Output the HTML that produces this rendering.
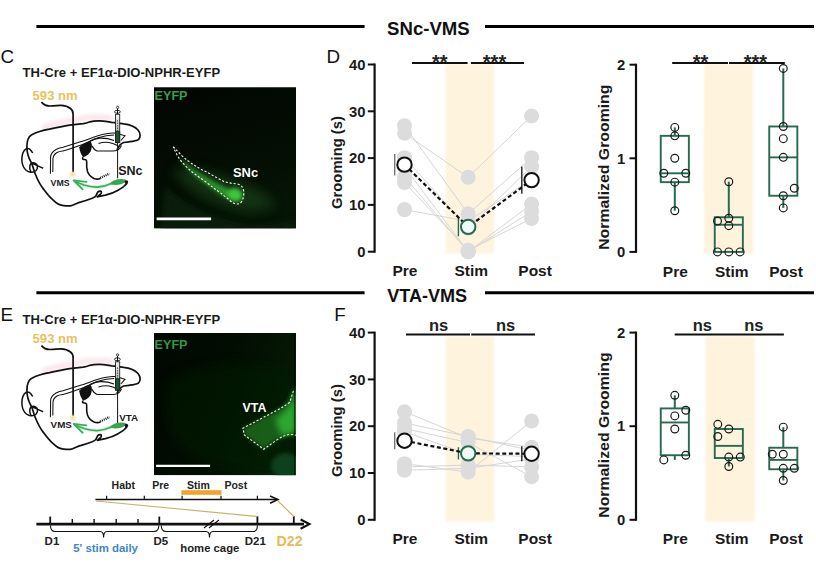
<!DOCTYPE html>
<html><head><meta charset="utf-8"><style>
html,body{margin:0;padding:0;background:#fff;width:816px;height:574px;overflow:hidden}
svg{display:block;font-family:"Liberation Sans", sans-serif}
</style></head><body>
<svg width="816" height="574" viewBox="0 0 816 574">
<defs>
<filter id="blurB" x="-20%" y="-5%" width="140%" height="110%"><feGaussianBlur stdDeviation="1.2"/></filter>
<filter id="blur1" x="-50%" y="-50%" width="200%" height="200%"><feGaussianBlur stdDeviation="1"/></filter>
<filter id="blur2" x="-50%" y="-50%" width="200%" height="200%"><feGaussianBlur stdDeviation="2"/></filter>
<filter id="blur3" x="-50%" y="-50%" width="200%" height="200%"><feGaussianBlur stdDeviation="3"/></filter>
<clipPath id="clipC"><rect x="154" y="87.2" width="142" height="141.2"/></clipPath>
<clipPath id="clipE"><rect x="154" y="333" width="142" height="142.2"/></clipPath>
<linearGradient id="gC" x1="0" y1="0" x2="0.3" y2="1"><stop offset="0" stop-color="#020802" stop-opacity="0.5"/><stop offset="1" stop-color="#071807" stop-opacity="0.8"/></linearGradient>
<linearGradient id="gE" x1="0" y1="0" x2="1" y2="0.4"><stop offset="0" stop-color="#020902" stop-opacity="0.4"/><stop offset="0.6" stop-color="#031203" stop-opacity="0.7"/><stop offset="1" stop-color="#062006" stop-opacity="0.9"/></linearGradient>
<linearGradient id="gSyr" x1="0" y1="0" x2="0" y2="1"><stop offset="0" stop-color="#f2f2f2"/><stop offset="0.3" stop-color="#d8d8d8"/><stop offset="1" stop-color="#8a8a8a"/></linearGradient>
<filter id="blur4" x="-50%" y="-50%" width="200%" height="200%"><feGaussianBlur stdDeviation="6"/></filter>
</defs>
<rect width="816" height="574" fill="#fff"/>
<line x1="36.4" y1="26.5" x2="364.6" y2="26.5" stroke="#000" stroke-width="3"/>
<line x1="485" y1="26.5" x2="814" y2="26.5" stroke="#000" stroke-width="3"/>
<text transform="translate(428.40,35.00) scale(1.045,1)" font-size="17.8" font-weight="bold" text-anchor="middle" fill="#111" >SNc-VMS</text>
<line x1="36.4" y1="292.8" x2="364.6" y2="292.8" stroke="#000" stroke-width="3"/>
<line x1="485" y1="292.8" x2="814" y2="292.8" stroke="#000" stroke-width="3"/>
<text transform="translate(427.20,302.00) scale(1.015,1)" font-size="17.8" font-weight="bold" text-anchor="middle" fill="#111" >VTA-VMS</text>
<text transform="translate(0.60,62.90)" font-size="18.8" font-weight="normal" text-anchor="start" fill="#111" >C</text>
<text transform="translate(0.40,320.70)" font-size="18.8" font-weight="normal" text-anchor="start" fill="#111" >E</text>
<text transform="translate(326.60,62.80)" font-size="18.8" font-weight="normal" text-anchor="start" fill="#111" >D</text>
<text transform="translate(334.20,320.60)" font-size="18.8" font-weight="normal" text-anchor="start" fill="#111" >F</text>
<g transform="translate(0,0)">
<path d="M44,127.5 C55,124 70,120 90,117.6 C100,117 106,117.5 111.5,118.5" fill="none" stroke="#f4cdd7" stroke-width="5" stroke-linecap="round" opacity="0.6" filter="url(#blur2)"/>
<path d="M41.4,102.1 C43,104 46,106 50,106 C55,106 58,105.3 61,105.4 C65,105.6 68,106.5 70.5,108.5 C72.5,110 73.1,112 73.1,114 L73.1,172.2" fill="none" stroke="#111" stroke-width="1.7"/>
<circle cx="72.6" cy="174.5" r="2.8" fill="#f8dfa8" filter="url(#blur1)"/>
<path d="M116.9,149.9 C118,147.5 120,144 123.6,142.5 L129,141.8 C133,141.3 136,141 138.5,139.5 C141,137.5 140.5,133 138,130 C135,126.5 130,124.5 123.6,123.8 C118,123 114,122.3 111.5,122.3 C106,121.5 102,120.8 99.3,120.9 C95,121 92,121.3 89.9,121.8 C87,123 85,123.4 83.2,123.6 C78,124 74,124.5 69.7,125.2 C62,126.5 55,128 49.5,129.2 C42,130.5 36,132.5 31.4,134.9 C28.5,136.5 27,141 26.9,146.6 C26.8,152 28.5,158 31.4,162.9 C33,166 33.5,170 35.4,174.3 C38,181 41,186 43.5,189.1 C47,194 50,197.5 52.9,199.9 C56,203 60,205.5 63.7,205.6 C66,205.9 68,206 70.4,205.9 C74,205 77,203 81.2,201.9 C86,200.5 90,199 93.3,197.8 C95.5,197 96.5,195.5 96.8,194 C97.5,192 98.5,191 100.5,191.2 C102,191.5 101.5,193.5 100.1,194.5 C99,195.5 97.5,196.3 97.4,196.8 C100,196.5 102,195.8 105.5,195.1 C110,194 114,192.5 117.6,190.4 C121,188.5 123.5,187 124.8,185.5 C126,184.5 126.7,183.6 127,183" fill="none" stroke="#111" stroke-width="1.7" stroke-linejoin="round"/>
<path d="M32.7,153 C31,150 29.5,148.5 27.8,148.4 C25.5,148.2 23,151 22.2,155.5 C21.5,160 22,164 23.6,167 C25,170 27.5,171.8 30.5,172.2 C33.5,172.5 36.5,171 37.2,168.5 C37.8,166 36.8,163.7 34.5,163 C32.5,162.5 30.6,163.6 29.9,165.5 C29.4,167.5 30,170 31,172 M31.8,163 C35,164.5 40,166.8 43.1,168.3" fill="none" stroke="#111" stroke-width="1.5"/>
<path d="M50.4,173.8 L50.6,157 C50.8,153.5 52.5,151.5 56,149.5 C59,148 61,147.5 63,147.2 C70,145 75,143.5 80.5,141.8 C87,139.8 92,137.5 98,135.8 C104,134 110,133 114.2,133.1 C118,133.2 120.5,134.3 122.3,135.1 L125,135.8 L120.9,140.5" fill="none" stroke="#111" stroke-width="1.05"/>
<path d="M52.8,172 L53,158.5 C53.2,155.5 54.5,154 57,152.5 C59,151.5 61,151.3 63,151 C70,149 75,147 80.5,145.2 C87,143 92,140 98,137.8 C104,136 110,135.2 114.2,135.1" fill="none" stroke="#111" stroke-width="1.05"/>
<path d="M79.1,147.2 C82,144.5 86,142 89.9,141.1 C91.5,142.5 92,144 91.9,145.9 C91.5,149 91,151 89.9,152.6 C88,155 85.5,156.5 83.2,157.3 C82,155.5 81,154 80.5,152.6 C80,151 79.5,149 79.1,147.2 Z" fill="#111"/>
<path d="M89.9,141.1 C93,139.5 97,138.5 100,138.2 C105,138 110,139 114,140.5 M91.9,145.9 C93,148 94.5,150 97,151 L113,151 C116,151 118,150.5 119.6,148.5 L121.5,145.5" fill="none" stroke="#111" stroke-width="1.2"/>
<path d="M98.5,143.5 C102,142.3 106,142 109,142.5 C112,143 115,144 117.5,145.5" fill="none" stroke="#111" stroke-width="1.1"/>
<path d="M83.2,157.3 C82,158.5 82.5,159.5 84,159.5 C85.5,159.3 86.8,160 86.7,162.1 C86.5,165 86.6,168.5 87.5,171.5 C88.5,174.5 91,177 94,178.5 C96,179.3 98.5,179.3 100.5,178.6" fill="none" stroke="#111" stroke-width="1.6"/>
<path d="M100.1,178 L109.5,173.6" fill="none" stroke="#222" stroke-width="2.3" stroke-dasharray="1.1,0.9"/>
<g transform="translate(0,0)">
<circle cx="117.6" cy="107.4" r="1.15" fill="none" stroke="#111" stroke-width="0.8"/>
<line x1="117.5" y1="108.6" x2="117.5" y2="114.5" stroke="#111" stroke-width="1"/>
<ellipse cx="117.4" cy="111.8" rx="2.9" ry="1.5" fill="none" stroke="#111" stroke-width="0.9"/>
<rect x="115.5" y="114.3" width="4.2" height="28.3" fill="url(#gSyr)" stroke="#222" stroke-width="0.9"/>
<line x1="117.6" y1="120" x2="117.6" y2="131" stroke="#555" stroke-width="1" stroke-dasharray="1.5,1"/>
<rect x="115.5" y="131.3" width="4.2" height="11.3" fill="#1b5532" stroke="#222" stroke-width="0.9"/>
</g>
<line x1="117.6" y1="142.5" x2="117.6" y2="178.3" stroke="#111" stroke-width="1"/>
<path d="M112,183.2 C107,185.5 102.5,186.8 97.4,187.1 C92,187.3 88,186.3 83.9,185 C80,183.5 76,181.8 74,180.8" fill="none" stroke="#bfe8c8" stroke-width="3.6" opacity="0.6"/>
<path d="M112,183.2 C107,185.5 102.5,186.8 97.4,187.1 C92,187.3 88,186.3 83.9,185 C80,183.5 76,181.8 74,180.8" fill="none" stroke="#3bb05a" stroke-width="1.8"/>
<path d="M86.4,181.9 L73.6,180.4 L82.6,189.2" fill="none" stroke="#3bb05a" stroke-width="1.9" stroke-linejoin="round" stroke-linecap="round"/>
<path d="M109.5,184 C113,179.8 120,177.8 126.5,180 C124.5,184.2 117.5,186.3 109.5,184 Z" fill="#35a552"/>
<circle cx="126.4" cy="182.1" r="1.8" fill="#111"/>
</g>
<text transform="translate(50.60,185.70)" font-size="8.8" font-weight="bold" text-anchor="start" fill="#222" >VMS</text>
<text transform="translate(32.60,99.80) scale(1.03,1)" font-size="12.7" font-weight="bold" text-anchor="start" fill="#e8c35c" >593 nm</text>
<text transform="translate(118.20,175.40)" font-size="12.5" font-weight="bold" text-anchor="start" fill="#1a1a1a" >SNc</text>
<g transform="translate(0,243.5)">
<path d="M44,127.5 C55,124 70,120 90,117.6 C100,117 106,117.5 111.5,118.5" fill="none" stroke="#f4cdd7" stroke-width="5" stroke-linecap="round" opacity="0.6" filter="url(#blur2)"/>
<path d="M41.4,102.1 C43,104 46,106 50,106 C55,106 58,105.3 61,105.4 C65,105.6 68,106.5 70.5,108.5 C72.5,110 73.1,112 73.1,114 L73.1,172.2" fill="none" stroke="#111" stroke-width="1.7"/>
<circle cx="72.6" cy="174.5" r="2.8" fill="#f8dfa8" filter="url(#blur1)"/>
<path d="M116.9,149.9 C118,147.5 120,144 123.6,142.5 L129,141.8 C133,141.3 136,141 138.5,139.5 C141,137.5 140.5,133 138,130 C135,126.5 130,124.5 123.6,123.8 C118,123 114,122.3 111.5,122.3 C106,121.5 102,120.8 99.3,120.9 C95,121 92,121.3 89.9,121.8 C87,123 85,123.4 83.2,123.6 C78,124 74,124.5 69.7,125.2 C62,126.5 55,128 49.5,129.2 C42,130.5 36,132.5 31.4,134.9 C28.5,136.5 27,141 26.9,146.6 C26.8,152 28.5,158 31.4,162.9 C33,166 33.5,170 35.4,174.3 C38,181 41,186 43.5,189.1 C47,194 50,197.5 52.9,199.9 C56,203 60,205.5 63.7,205.6 C66,205.9 68,206 70.4,205.9 C74,205 77,203 81.2,201.9 C86,200.5 90,199 93.3,197.8 C95.5,197 96.5,195.5 96.8,194 C97.5,192 98.5,191 100.5,191.2 C102,191.5 101.5,193.5 100.1,194.5 C99,195.5 97.5,196.3 97.4,196.8 C100,196.5 102,195.8 105.5,195.1 C110,194 114,192.5 117.6,190.4 C121,188.5 123.5,187 124.8,185.5 C126,184.5 126.7,183.6 127,183" fill="none" stroke="#111" stroke-width="1.7" stroke-linejoin="round"/>
<path d="M32.7,153 C31,150 29.5,148.5 27.8,148.4 C25.5,148.2 23,151 22.2,155.5 C21.5,160 22,164 23.6,167 C25,170 27.5,171.8 30.5,172.2 C33.5,172.5 36.5,171 37.2,168.5 C37.8,166 36.8,163.7 34.5,163 C32.5,162.5 30.6,163.6 29.9,165.5 C29.4,167.5 30,170 31,172 M31.8,163 C35,164.5 40,166.8 43.1,168.3" fill="none" stroke="#111" stroke-width="1.5"/>
<path d="M50.4,173.8 L50.6,157 C50.8,153.5 52.5,151.5 56,149.5 C59,148 61,147.5 63,147.2 C70,145 75,143.5 80.5,141.8 C87,139.8 92,137.5 98,135.8 C104,134 110,133 114.2,133.1 C118,133.2 120.5,134.3 122.3,135.1 L125,135.8 L120.9,140.5" fill="none" stroke="#111" stroke-width="1.05"/>
<path d="M52.8,172 L53,158.5 C53.2,155.5 54.5,154 57,152.5 C59,151.5 61,151.3 63,151 C70,149 75,147 80.5,145.2 C87,143 92,140 98,137.8 C104,136 110,135.2 114.2,135.1" fill="none" stroke="#111" stroke-width="1.05"/>
<path d="M79.1,147.2 C82,144.5 86,142 89.9,141.1 C91.5,142.5 92,144 91.9,145.9 C91.5,149 91,151 89.9,152.6 C88,155 85.5,156.5 83.2,157.3 C82,155.5 81,154 80.5,152.6 C80,151 79.5,149 79.1,147.2 Z" fill="#111"/>
<path d="M89.9,141.1 C93,139.5 97,138.5 100,138.2 C105,138 110,139 114,140.5 M91.9,145.9 C93,148 94.5,150 97,151 L113,151 C116,151 118,150.5 119.6,148.5 L121.5,145.5" fill="none" stroke="#111" stroke-width="1.2"/>
<path d="M98.5,143.5 C102,142.3 106,142 109,142.5 C112,143 115,144 117.5,145.5" fill="none" stroke="#111" stroke-width="1.1"/>
<path d="M83.2,157.3 C82,158.5 82.5,159.5 84,159.5 C85.5,159.3 86.8,160 86.7,162.1 C86.5,165 86.6,168.5 87.5,171.5 C88.5,174.5 91,177 94,178.5 C96,179.3 98.5,179.3 100.5,178.6" fill="none" stroke="#111" stroke-width="1.6"/>
<path d="M100.1,178 L109.5,173.6" fill="none" stroke="#222" stroke-width="2.3" stroke-dasharray="1.1,0.9"/>
<g transform="translate(0,4)">
<circle cx="117.6" cy="107.4" r="1.15" fill="none" stroke="#111" stroke-width="0.8"/>
<line x1="117.5" y1="108.6" x2="117.5" y2="114.5" stroke="#111" stroke-width="1"/>
<ellipse cx="117.4" cy="111.8" rx="2.9" ry="1.5" fill="none" stroke="#111" stroke-width="0.9"/>
<rect x="115.5" y="114.3" width="4.2" height="28.3" fill="url(#gSyr)" stroke="#222" stroke-width="0.9"/>
<line x1="117.6" y1="120" x2="117.6" y2="131" stroke="#555" stroke-width="1" stroke-dasharray="1.5,1"/>
<rect x="115.5" y="131.3" width="4.2" height="11.3" fill="#1b5532" stroke="#222" stroke-width="0.9"/>
</g>
<line x1="117.6" y1="146.5" x2="117.6" y2="182.5" stroke="#111" stroke-width="1"/>
<path d="M112,183.2 C107,185.5 102.5,186.8 97.4,187.1 C92,187.3 88,186.3 83.9,185 C80,183.5 76,181.8 74,180.8" fill="none" stroke="#bfe8c8" stroke-width="3.6" opacity="0.6"/>
<path d="M112,183.2 C107,185.5 102.5,186.8 97.4,187.1 C92,187.3 88,186.3 83.9,185 C80,183.5 76,181.8 74,180.8" fill="none" stroke="#3bb05a" stroke-width="1.8"/>
<path d="M86.4,181.9 L73.6,180.4 L82.6,189.2" fill="none" stroke="#3bb05a" stroke-width="1.9" stroke-linejoin="round" stroke-linecap="round"/>
<path d="M109.5,184 C113,179.8 120,177.8 126.5,180 C124.5,184.2 117.5,186.3 109.5,184 Z" fill="#35a552"/>
<circle cx="126.4" cy="182.1" r="1.8" fill="#111"/>
</g>
<text transform="translate(50.60,427.70)" font-size="9.8" font-weight="bold" text-anchor="start" fill="#222" >VMS</text>
<text transform="translate(32.60,343.30) scale(1.03,1)" font-size="12.7" font-weight="bold" text-anchor="start" fill="#e8c35c" >593 nm</text>
<text transform="translate(119.20,420.90)" font-size="9.8" font-weight="bold" text-anchor="start" fill="#1a1a1a" >VTA</text>
<text transform="translate(22.60,76.80) scale(1.045,1)" font-size="12.5" font-weight="bold" text-anchor="start" fill="#1a1a1a" >TH-Cre + EF1α-DIO-NPHR-EYFP</text>
<text transform="translate(22.60,324.20) scale(1.045,1)" font-size="12.5" font-weight="bold" text-anchor="start" fill="#1a1a1a" >TH-Cre + EF1α-DIO-NPHR-EYFP</text>
<g clip-path="url(#clipC)">
<rect x="154" y="87.2" width="142" height="141.2" fill="#010301"/>
<rect x="154" y="87.2" width="142" height="141.2" fill="url(#gC)"/>
<path d="M165,185 C185,205 215,218 245,224 C262,227 280,224 296,218 L296,232 L160,232 Z" fill="#0a200a" opacity="0.7" filter="url(#blur3)"/>
<path d="M172,170 C185,190 210,203 240,210 C255,213 268,210 276,204 C265,192 248,184 230,178 C210,172 190,165 172,170 Z" fill="#1a4a1a" opacity="0.6" filter="url(#blur4)"/>
<path d="M178,155 C190,168 206,178 222,186 C230,190 236,191 241,194 C244,198 241,202 236,202 C228,200 215,190 205,183 C192,174 184,165 178,155 Z" fill="#2fa52f" opacity="0.9" filter="url(#blur2)"/>
<ellipse cx="235" cy="194" rx="7" ry="6" fill="#45d045" opacity="0.85" filter="url(#blur2)"/>
<path d="M173.2,146.6 C180,154 184,158 188.8,161.4 C195,166 200,169 206.3,171.8 C212,175 218,178.5 223.7,181.4 C227,182.7 230,183 237.6,184 C241,185 243,187 243.7,191 C244.2,195 243,200 241.1,202.3 C239,204 237.5,204.2 235.9,204 C233,203 231,201.5 228.9,199.7 C226,197 223,195 220.2,192.7 C215,189 211,186 206.3,182.3 C202,179 198,176.5 194.1,173.6 C189,169.5 184,165 180.1,159.6 C177,155.5 175,151 173.2,146.6" fill="none" stroke="#f4f4f4" stroke-width="1.1" stroke-dasharray="2.2,1.8"/>
</g>
<text x="154.6" y="99.8" font-size="12.6" font-weight="bold" fill="#36a048">EYFP</text>
<text x="233" y="177" font-size="12.3" font-weight="bold" fill="#fff" transform="translate(233,177) scale(1.05,1) translate(-233,-177)">SNc</text>
<line x1="156.6" y1="218.9" x2="211.1" y2="218.9" stroke="#fff" stroke-width="2.6"/>
<g clip-path="url(#clipE)">
<rect x="154" y="333" width="142" height="142.2" fill="#010701"/>
<rect x="154" y="333" width="142" height="142.2" fill="url(#gE)"/>
<path d="M170,380 C210,360 260,360 296,375 L296,470 C260,472 215,468 190,455 C168,440 160,405 170,380 Z" fill="#061a06" opacity="0.55" filter="url(#blur4)"/>
<path d="M293.4,390.8 L289.9,402.1 L276,410.8 L242.8,428.3 L244.6,435.2 L263.8,449.2 L276,440.5 L289.9,434.4 L296,435.2 L296,385 Z" fill="#1a6a1d" opacity="0.85" filter="url(#blur2)"/>
<path d="M296,388 L288,408 L275,420 L282,436 L296,432 Z" fill="#34c038" opacity="0.75" filter="url(#blur3)"/>
<ellipse cx="286" cy="466" rx="15" ry="13" fill="#11401a" filter="url(#blur2)"/>
<line x1="294.5" y1="333" x2="294.5" y2="475" stroke="#000" stroke-width="1" opacity="0.5"/>
<path d="M293.4,390.8 L289.9,402.1 C285,406 281,408 276,410.8 L242.8,428.3 L244.6,435.2 L263.8,449.2 L276,440.5 C281,437 285,435 289.9,434.4 L296,435.2" fill="none" stroke="#f0f0e8" stroke-width="1.1" stroke-dasharray="2.2,1.8"/>
</g>
<text x="154.6" y="348.6" font-size="12.6" font-weight="bold" fill="#2f9a40">EYFP</text>
<text x="242.5" y="411.7" font-size="12.4" font-weight="bold" fill="#fff">VTA</text>
<line x1="156.1" y1="465.9" x2="210.1" y2="465.9" stroke="#fff" stroke-width="2.2"/>

<g stroke="#111" fill="none">
<line x1="36.4" y1="524.1" x2="304" y2="524.1" stroke-width="2.6"/>
<path d="M300.6,519.5 L309.3,524.1 L300.6,528.7" stroke-width="2.2"/>
<line x1="50.2" y1="516.6" x2="50.2" y2="524" stroke-width="1.8"/>
<line x1="159.3" y1="516.6" x2="159.3" y2="524" stroke-width="1.8"/>
<line x1="257.4" y1="516.2" x2="257.4" y2="524" stroke-width="1.8"/>
<line x1="293.8" y1="516.2" x2="293.8" y2="524" stroke-width="1.8"/>
<line x1="72.3" y1="519" x2="72.3" y2="524" stroke-width="1.4"/>
<line x1="94.1" y1="519" x2="94.1" y2="524" stroke-width="1.4"/>
<line x1="116.2" y1="519" x2="116.2" y2="524" stroke-width="1.4"/>
<line x1="138" y1="519" x2="138" y2="524" stroke-width="1.4"/>
<path d="M50.5,525.5 C50.5,530 52,531.5 55,531.5 L100,531.5 C102,531.5 103.6,533 103.6,537.4 C103.6,533 105,531.5 107,531.5 L154,531.5 C157,531.5 158.8,530 158.8,525.5" stroke-width="1.1"/>
<path d="M161.3,525.5 C161.3,530 163,531.5 166,531.5 L206,531.5 C208,531.5 209.5,533 209.5,537.4 C209.5,533 211,531.5 213,531.5 L253,531.5 C256,531.5 257.4,530 257.4,525.5" stroke-width="1.1"/>
<path d="M204,528 L214,520 M209,528 L219,520" stroke-width="1.2"/>
<line x1="95.4" y1="499.5" x2="276" y2="499.5" stroke-width="1.7"/>
<path d="M270,496 L278,499.5 L270,503.3" stroke-width="1.5"/>
<line x1="106.6" y1="495.7" x2="106.6" y2="499.5" stroke-width="1.2"/>
<line x1="144.3" y1="495.7" x2="144.3" y2="499.5" stroke-width="1.2"/>
<line x1="182.1" y1="495.7" x2="182.1" y2="499.5" stroke-width="1.2"/>
<line x1="221" y1="495.7" x2="221" y2="499.5" stroke-width="1.2"/>
<line x1="257.4" y1="495.7" x2="257.4" y2="499.5" stroke-width="1.2"/>
</g>
<rect x="181.4" y="490.2" width="40.1" height="4.6" fill="#f0a42a"/>
<line x1="96" y1="501" x2="257.4" y2="516.5" stroke="#c8b06a" stroke-width="1.1"/>
<line x1="278" y1="501" x2="293.8" y2="516.5" stroke="#c8b06a" stroke-width="1.1"/>

<text transform="translate(111.60,489.20)" font-size="10.5" font-weight="bold" text-anchor="start" fill="#222" >Habt</text>
<text transform="translate(152.20,489.20)" font-size="10.5" font-weight="bold" text-anchor="start" fill="#222" >Pre</text>
<text transform="translate(187.00,489.20)" font-size="10.5" font-weight="bold" text-anchor="start" fill="#222" >Stim</text>
<text transform="translate(224.40,489.20)" font-size="10.5" font-weight="bold" text-anchor="start" fill="#222" >Post</text>
<text transform="translate(44.60,545.20)" font-size="11.5" font-weight="bold" text-anchor="start" fill="#222" >D1</text>
<text transform="translate(153.40,545.20)" font-size="11.5" font-weight="bold" text-anchor="start" fill="#222" >D5</text>
<text transform="translate(244.80,545.20)" font-size="11.5" font-weight="bold" text-anchor="start" fill="#222" >D21</text>
<text transform="translate(276.60,546.10)" font-size="14.2" font-weight="bold" text-anchor="start" fill="#e5bc55" >D22</text>
<text transform="translate(73.20,552.20)" font-size="11.4" font-weight="bold" text-anchor="start" fill="#3f86c6" >5' stim daily</text>
<text transform="translate(180.30,552.20)" font-size="11.3" font-weight="bold" text-anchor="start" fill="#222" >home cage</text>
<rect x="445.8" y="64.2" width="48.2" height="189.0" fill="#fef3dc" filter="url(#blurB)"/>
<line x1="374.6" y1="63.5" x2="374.6" y2="252.7" stroke="#111" stroke-width="2.2"/>
<line x1="367.8" y1="251.7" x2="374.6" y2="251.7" stroke="#111" stroke-width="2"/>
<text transform="translate(365.40,256.90)" font-size="14.8" font-weight="bold" text-anchor="end" fill="#1a1a1a" >0</text>
<line x1="367.8" y1="204.89999999999998" x2="374.6" y2="204.89999999999998" stroke="#111" stroke-width="2"/>
<text transform="translate(365.40,210.10)" font-size="14.8" font-weight="bold" text-anchor="end" fill="#1a1a1a" >10</text>
<line x1="367.8" y1="158.1" x2="374.6" y2="158.1" stroke="#111" stroke-width="2"/>
<text transform="translate(365.40,163.30)" font-size="14.8" font-weight="bold" text-anchor="end" fill="#1a1a1a" >20</text>
<line x1="367.8" y1="111.30000000000001" x2="374.6" y2="111.30000000000001" stroke="#111" stroke-width="2"/>
<text transform="translate(365.40,116.50)" font-size="14.8" font-weight="bold" text-anchor="end" fill="#1a1a1a" >30</text>
<line x1="367.8" y1="64.5" x2="374.6" y2="64.5" stroke="#111" stroke-width="2"/>
<text transform="translate(365.40,69.70)" font-size="14.8" font-weight="bold" text-anchor="end" fill="#1a1a1a" >40</text>
<text transform="translate(342.30,162.50) rotate(-90)" font-size="14.8" font-weight="bold" text-anchor="middle" fill="#1a1a1a" >Grooming (s)</text>
<polyline points="404.5,125.81 468.2,213.79 531.6,157.63" fill="none" stroke="#d6d6d6" stroke-width="1"/>
<polyline points="404.5,133.30 468.2,177.29 531.6,115.98" fill="none" stroke="#d6d6d6" stroke-width="1"/>
<polyline points="404.5,157.63 468.2,228.30 531.6,166.52" fill="none" stroke="#d6d6d6" stroke-width="1"/>
<polyline points="404.5,166.99 468.2,251.70 531.6,203.96" fill="none" stroke="#d6d6d6" stroke-width="1"/>
<polyline points="404.5,176.82 468.2,251.70 531.6,211.45" fill="none" stroke="#d6d6d6" stroke-width="1"/>
<polyline points="404.5,182.44 468.2,250.30 531.6,218.47" fill="none" stroke="#d6d6d6" stroke-width="1"/>
<polyline points="404.5,209.58 468.2,221.28 531.6,179.16" fill="none" stroke="#d6d6d6" stroke-width="1"/>
<circle cx="404.5" cy="125.81" r="7.5" fill="#dcdcdc"/>
<circle cx="404.5" cy="133.30" r="7.5" fill="#dcdcdc"/>
<circle cx="404.5" cy="157.63" r="7.5" fill="#dcdcdc"/>
<circle cx="404.5" cy="166.99" r="7.5" fill="#dcdcdc"/>
<circle cx="404.5" cy="176.82" r="7.5" fill="#dcdcdc"/>
<circle cx="404.5" cy="182.44" r="7.5" fill="#dcdcdc"/>
<circle cx="404.5" cy="209.58" r="7.5" fill="#dcdcdc"/>
<circle cx="468.2" cy="213.79" r="7.5" fill="#dcdcdc"/>
<circle cx="468.2" cy="177.29" r="7.5" fill="#dcdcdc"/>
<circle cx="468.2" cy="228.30" r="7.5" fill="#dcdcdc"/>
<circle cx="468.2" cy="251.70" r="7.5" fill="#dcdcdc"/>
<circle cx="468.2" cy="251.70" r="7.5" fill="#dcdcdc"/>
<circle cx="468.2" cy="250.30" r="7.5" fill="#dcdcdc"/>
<circle cx="468.2" cy="221.28" r="7.5" fill="#dcdcdc"/>
<circle cx="531.6" cy="157.63" r="7.5" fill="#dcdcdc"/>
<circle cx="531.6" cy="115.98" r="7.5" fill="#dcdcdc"/>
<circle cx="531.6" cy="166.52" r="7.5" fill="#dcdcdc"/>
<circle cx="531.6" cy="203.96" r="7.5" fill="#dcdcdc"/>
<circle cx="531.6" cy="211.45" r="7.5" fill="#dcdcdc"/>
<circle cx="531.6" cy="218.47" r="7.5" fill="#dcdcdc"/>
<circle cx="531.6" cy="179.16" r="7.5" fill="#dcdcdc"/>
<line x1="394.7" y1="153.89" x2="394.7" y2="175.42" stroke="#777" stroke-width="1.4"/>
<line x1="458.4" y1="217.54" x2="458.4" y2="236.26" stroke="#276a50" stroke-width="1.4"/>
<line x1="521.8000000000001" y1="166.52" x2="521.8000000000001" y2="193.67" stroke="#222" stroke-width="1.4"/>
<polyline points="404.5,164.65 468.2,226.90 531.6,180.10" fill="none" stroke="#111" stroke-width="2.2" stroke-dasharray="4,2.6"/>
<circle cx="404.5" cy="164.65" r="7.2" fill="#fff" stroke="#111" stroke-width="2"/>
<circle cx="468.2" cy="226.90" r="7.2" fill="#effcf6" stroke="#276a50" stroke-width="2"/>
<circle cx="531.6" cy="180.10" r="7.2" fill="#fff" stroke="#111" stroke-width="2"/>
<text transform="translate(405.00,276.30) scale(1.02,1)" font-size="15.2" font-weight="bold" text-anchor="middle" fill="#1a1a1a" >Pre</text>
<text transform="translate(471.20,276.30) scale(1.02,1)" font-size="15.2" font-weight="bold" text-anchor="middle" fill="#1a1a1a" >Stim</text>
<text transform="translate(535.10,276.30) scale(1.02,1)" font-size="15.2" font-weight="bold" text-anchor="middle" fill="#1a1a1a" >Post</text>
<line x1="412" y1="62.9" x2="467.6" y2="62.9" stroke="#111" stroke-width="2"/>
<line x1="470.9" y1="62.9" x2="524" y2="62.9" stroke="#111" stroke-width="2"/>
<text transform="translate(439.80,68.70)" font-size="20" font-weight="bold" text-anchor="middle" fill="#222" >**</text>
<text transform="translate(494.50,68.70)" font-size="20" font-weight="bold" text-anchor="middle" fill="#222" >***</text>
<rect x="445.8" y="336.5" width="48.2" height="184.79999999999995" fill="#fef3dc" filter="url(#blurB)"/>
<line x1="374.6" y1="331.59999999999997" x2="374.6" y2="520.8" stroke="#111" stroke-width="2.2"/>
<line x1="367.8" y1="519.8" x2="374.6" y2="519.8" stroke="#111" stroke-width="2"/>
<text transform="translate(365.40,525.00)" font-size="14.8" font-weight="bold" text-anchor="end" fill="#1a1a1a" >0</text>
<line x1="367.8" y1="472.99999999999994" x2="374.6" y2="472.99999999999994" stroke="#111" stroke-width="2"/>
<text transform="translate(365.40,478.20)" font-size="14.8" font-weight="bold" text-anchor="end" fill="#1a1a1a" >10</text>
<line x1="367.8" y1="426.19999999999993" x2="374.6" y2="426.19999999999993" stroke="#111" stroke-width="2"/>
<text transform="translate(365.40,431.40)" font-size="14.8" font-weight="bold" text-anchor="end" fill="#1a1a1a" >20</text>
<line x1="367.8" y1="379.4" x2="374.6" y2="379.4" stroke="#111" stroke-width="2"/>
<text transform="translate(365.40,384.60)" font-size="14.8" font-weight="bold" text-anchor="end" fill="#1a1a1a" >30</text>
<line x1="367.8" y1="332.59999999999997" x2="374.6" y2="332.59999999999997" stroke="#111" stroke-width="2"/>
<text transform="translate(365.40,337.80)" font-size="14.8" font-weight="bold" text-anchor="end" fill="#1a1a1a" >40</text>
<text transform="translate(342.30,430.60) rotate(-90)" font-size="14.8" font-weight="bold" text-anchor="middle" fill="#1a1a1a" >Grooming (s)</text>
<polyline points="404.5,411.69 468.2,437.90 531.6,447.26" fill="none" stroke="#d6d6d6" stroke-width="1"/>
<polyline points="404.5,422.92 468.2,436.50 531.6,450.54" fill="none" stroke="#d6d6d6" stroke-width="1"/>
<polyline points="404.5,428.54 468.2,442.58 531.6,476.74" fill="none" stroke="#d6d6d6" stroke-width="1"/>
<polyline points="404.5,431.82 468.2,454.28 531.6,456.62" fill="none" stroke="#d6d6d6" stroke-width="1"/>
<polyline points="404.5,463.64 468.2,472.06 531.6,421.05" fill="none" stroke="#d6d6d6" stroke-width="1"/>
<polyline points="404.5,466.92 468.2,465.04 531.6,466.92" fill="none" stroke="#d6d6d6" stroke-width="1"/>
<polyline points="404.5,470.19 468.2,468.32 531.6,458.96" fill="none" stroke="#d6d6d6" stroke-width="1"/>
<circle cx="404.5" cy="411.69" r="7.5" fill="#dcdcdc"/>
<circle cx="404.5" cy="422.92" r="7.5" fill="#dcdcdc"/>
<circle cx="404.5" cy="428.54" r="7.5" fill="#dcdcdc"/>
<circle cx="404.5" cy="431.82" r="7.5" fill="#dcdcdc"/>
<circle cx="404.5" cy="463.64" r="7.5" fill="#dcdcdc"/>
<circle cx="404.5" cy="466.92" r="7.5" fill="#dcdcdc"/>
<circle cx="404.5" cy="470.19" r="7.5" fill="#dcdcdc"/>
<circle cx="468.2" cy="437.90" r="7.5" fill="#dcdcdc"/>
<circle cx="468.2" cy="436.50" r="7.5" fill="#dcdcdc"/>
<circle cx="468.2" cy="442.58" r="7.5" fill="#dcdcdc"/>
<circle cx="468.2" cy="454.28" r="7.5" fill="#dcdcdc"/>
<circle cx="468.2" cy="472.06" r="7.5" fill="#dcdcdc"/>
<circle cx="468.2" cy="465.04" r="7.5" fill="#dcdcdc"/>
<circle cx="468.2" cy="468.32" r="7.5" fill="#dcdcdc"/>
<circle cx="531.6" cy="447.26" r="7.5" fill="#dcdcdc"/>
<circle cx="531.6" cy="450.54" r="7.5" fill="#dcdcdc"/>
<circle cx="531.6" cy="476.74" r="7.5" fill="#dcdcdc"/>
<circle cx="531.6" cy="456.62" r="7.5" fill="#dcdcdc"/>
<circle cx="531.6" cy="421.05" r="7.5" fill="#dcdcdc"/>
<circle cx="531.6" cy="466.92" r="7.5" fill="#dcdcdc"/>
<circle cx="531.6" cy="458.96" r="7.5" fill="#dcdcdc"/>
<line x1="394.7" y1="432.28" x2="394.7" y2="449.13" stroke="#777" stroke-width="1.4"/>
<line x1="458.4" y1="447.26" x2="458.4" y2="459.43" stroke="#276a50" stroke-width="1.4"/>
<line x1="521.8000000000001" y1="446.32" x2="521.8000000000001" y2="461.30" stroke="#222" stroke-width="1.4"/>
<polyline points="404.5,440.71 468.2,453.34 531.6,453.81" fill="none" stroke="#111" stroke-width="2.2" stroke-dasharray="4,2.6"/>
<circle cx="404.5" cy="440.71" r="7.2" fill="#fff" stroke="#111" stroke-width="2"/>
<circle cx="468.2" cy="453.34" r="7.2" fill="#effcf6" stroke="#276a50" stroke-width="2"/>
<circle cx="531.6" cy="453.81" r="7.2" fill="#fff" stroke="#111" stroke-width="2"/>
<text transform="translate(405.00,544.40) scale(1.02,1)" font-size="15.2" font-weight="bold" text-anchor="middle" fill="#1a1a1a" >Pre</text>
<text transform="translate(471.20,544.40) scale(1.02,1)" font-size="15.2" font-weight="bold" text-anchor="middle" fill="#1a1a1a" >Stim</text>
<text transform="translate(535.10,544.40) scale(1.02,1)" font-size="15.2" font-weight="bold" text-anchor="middle" fill="#1a1a1a" >Post</text>
<line x1="406" y1="334.6" x2="470" y2="334.6" stroke="#111" stroke-width="2"/>
<line x1="471.2" y1="334.6" x2="535" y2="334.6" stroke="#111" stroke-width="2"/>
<text transform="translate(438.60,330.60)" font-size="16.5" font-weight="bold" text-anchor="middle" fill="#222" >ns</text>
<text transform="translate(505.60,330.60)" font-size="16.5" font-weight="bold" text-anchor="middle" fill="#222" >ns</text>
<rect x="704" y="64.2" width="49" height="189.2" fill="#fef3dc" filter="url(#blurB)"/>
<line x1="636" y1="63.70000000000002" x2="636" y2="252.9" stroke="#111" stroke-width="2.2"/>
<line x1="629.5" y1="251.9" x2="636" y2="251.9" stroke="#111" stroke-width="2"/>
<text transform="translate(625.30,257.10)" font-size="14.8" font-weight="bold" text-anchor="end" fill="#1a1a1a" >0</text>
<line x1="629.5" y1="158.3" x2="636" y2="158.3" stroke="#111" stroke-width="2"/>
<text transform="translate(625.30,163.50)" font-size="14.8" font-weight="bold" text-anchor="end" fill="#1a1a1a" >1</text>
<line x1="629.5" y1="64.70000000000002" x2="636" y2="64.70000000000002" stroke="#111" stroke-width="2"/>
<text transform="translate(625.30,69.90)" font-size="14.8" font-weight="bold" text-anchor="end" fill="#1a1a1a" >2</text>
<text transform="translate(609.30,167.20) rotate(-90) scale(1.1,1)" font-size="14.4" font-weight="bold" text-anchor="middle" fill="#1a1a1a" >Normalized Grooming</text>
<line x1="674.8" y1="127.41" x2="674.8" y2="135.84" stroke="#276a50" stroke-width="2"/>
<line x1="674.8" y1="182.17" x2="674.8" y2="210.72" stroke="#276a50" stroke-width="2"/>
<rect x="660.75" y="135.84" width="28.1" height="46.33" fill="none" stroke="#276a50" stroke-width="1.9"/>
<line x1="660.75" y1="173.28" x2="688.8499999999999" y2="173.28" stroke="#276a50" stroke-width="1.9"/>
<line x1="728.8" y1="181.70" x2="728.8" y2="217.27" stroke="#276a50" stroke-width="2"/>
<line x1="728.8" y1="251.90" x2="728.8" y2="251.90" stroke="#276a50" stroke-width="2"/>
<rect x="714.75" y="217.27" width="28.1" height="34.63" fill="none" stroke="#276a50" stroke-width="1.9"/>
<line x1="714.75" y1="224.76" x2="742.8499999999999" y2="224.76" stroke="#276a50" stroke-width="1.9"/>
<line x1="783.3" y1="68.44" x2="783.3" y2="126.48" stroke="#276a50" stroke-width="2"/>
<line x1="783.3" y1="195.74" x2="783.3" y2="207.91" stroke="#276a50" stroke-width="2"/>
<rect x="769.25" y="126.48" width="28.1" height="69.26" fill="none" stroke="#276a50" stroke-width="1.9"/>
<line x1="769.25" y1="157.36" x2="797.3499999999999" y2="157.36" stroke="#276a50" stroke-width="1.9"/>
<circle cx="674.8" cy="127.41" r="3.9" fill="none" stroke="#1a1a1a" stroke-width="1.2"/>
<circle cx="674.8" cy="135.84" r="3.9" fill="none" stroke="#1a1a1a" stroke-width="1.2"/>
<circle cx="674.8" cy="158.30" r="3.9" fill="none" stroke="#1a1a1a" stroke-width="1.2"/>
<circle cx="663.8" cy="173.28" r="3.9" fill="none" stroke="#1a1a1a" stroke-width="1.2"/>
<circle cx="685.8" cy="173.28" r="3.9" fill="none" stroke="#1a1a1a" stroke-width="1.2"/>
<circle cx="674.8" cy="182.17" r="3.9" fill="none" stroke="#1a1a1a" stroke-width="1.2"/>
<circle cx="674.8" cy="210.72" r="3.9" fill="none" stroke="#1a1a1a" stroke-width="1.2"/>
<circle cx="728.8" cy="181.70" r="3.9" fill="none" stroke="#1a1a1a" stroke-width="1.2"/>
<circle cx="728.8" cy="218.20" r="3.9" fill="none" stroke="#1a1a1a" stroke-width="1.2"/>
<circle cx="717.5" cy="221.01" r="3.9" fill="none" stroke="#1a1a1a" stroke-width="1.2"/>
<circle cx="728.8" cy="225.69" r="3.9" fill="none" stroke="#1a1a1a" stroke-width="1.2"/>
<circle cx="717.5" cy="251.90" r="3.9" fill="none" stroke="#1a1a1a" stroke-width="1.2"/>
<circle cx="728.8" cy="251.90" r="3.9" fill="none" stroke="#1a1a1a" stroke-width="1.2"/>
<circle cx="740.0999999999999" cy="251.90" r="3.9" fill="none" stroke="#1a1a1a" stroke-width="1.2"/>
<circle cx="783.3" cy="68.44" r="3.9" fill="none" stroke="#1a1a1a" stroke-width="1.2"/>
<circle cx="783.3" cy="126.48" r="3.9" fill="none" stroke="#1a1a1a" stroke-width="1.2"/>
<circle cx="783.3" cy="138.64" r="3.9" fill="none" stroke="#1a1a1a" stroke-width="1.2"/>
<circle cx="783.3" cy="157.36" r="3.9" fill="none" stroke="#1a1a1a" stroke-width="1.2"/>
<circle cx="794.3" cy="188.25" r="3.9" fill="none" stroke="#1a1a1a" stroke-width="1.2"/>
<circle cx="783.3" cy="195.74" r="3.9" fill="none" stroke="#1a1a1a" stroke-width="1.2"/>
<circle cx="783.3" cy="207.91" r="3.9" fill="none" stroke="#1a1a1a" stroke-width="1.2"/>
<text transform="translate(675.30,276.50) scale(1.02,1)" font-size="15.2" font-weight="bold" text-anchor="middle" fill="#1a1a1a" >Pre</text>
<text transform="translate(731.80,276.50) scale(1.02,1)" font-size="15.2" font-weight="bold" text-anchor="middle" fill="#1a1a1a" >Stim</text>
<text transform="translate(786.00,276.50) scale(1.02,1)" font-size="15.2" font-weight="bold" text-anchor="middle" fill="#1a1a1a" >Post</text>
<line x1="672.2" y1="62.9" x2="728" y2="62.9" stroke="#111" stroke-width="2"/>
<line x1="729" y1="62.9" x2="784.8" y2="62.9" stroke="#111" stroke-width="2"/>
<text transform="translate(700.50,68.70)" font-size="20" font-weight="bold" text-anchor="middle" fill="#222" >**</text>
<text transform="translate(755.30,68.70)" font-size="20" font-weight="bold" text-anchor="middle" fill="#222" >***</text>
<rect x="705.5" y="336.4" width="49" height="184.89999999999998" fill="#fef3dc" filter="url(#blurB)"/>
<line x1="636" y1="331.59999999999997" x2="636" y2="520.8" stroke="#111" stroke-width="2.2"/>
<line x1="629.5" y1="519.8" x2="636" y2="519.8" stroke="#111" stroke-width="2"/>
<text transform="translate(625.30,525.00)" font-size="14.8" font-weight="bold" text-anchor="end" fill="#1a1a1a" >0</text>
<line x1="629.5" y1="426.19999999999993" x2="636" y2="426.19999999999993" stroke="#111" stroke-width="2"/>
<text transform="translate(625.30,431.40)" font-size="14.8" font-weight="bold" text-anchor="end" fill="#1a1a1a" >1</text>
<line x1="629.5" y1="332.59999999999997" x2="636" y2="332.59999999999997" stroke="#111" stroke-width="2"/>
<text transform="translate(625.30,337.80)" font-size="14.8" font-weight="bold" text-anchor="end" fill="#1a1a1a" >2</text>
<text transform="translate(609.30,435.10) rotate(-90) scale(1.1,1)" font-size="14.4" font-weight="bold" text-anchor="middle" fill="#1a1a1a" >Normalized Grooming</text>
<line x1="674.8" y1="395.31" x2="674.8" y2="408.42" stroke="#276a50" stroke-width="2"/>
<line x1="674.8" y1="455.22" x2="674.8" y2="459.90" stroke="#276a50" stroke-width="2"/>
<rect x="660.75" y="408.42" width="28.1" height="46.80" fill="none" stroke="#276a50" stroke-width="1.9"/>
<line x1="660.75" y1="422.46" x2="688.8499999999999" y2="422.46" stroke="#276a50" stroke-width="1.9"/>
<line x1="728.8" y1="429.01" x2="728.8" y2="429.01" stroke="#276a50" stroke-width="2"/>
<line x1="728.8" y1="458.02" x2="728.8" y2="466.45" stroke="#276a50" stroke-width="2"/>
<rect x="714.75" y="429.01" width="28.1" height="29.02" fill="none" stroke="#276a50" stroke-width="1.9"/>
<line x1="714.75" y1="445.86" x2="742.8499999999999" y2="445.86" stroke="#276a50" stroke-width="1.9"/>
<line x1="783.3" y1="427.14" x2="783.3" y2="447.73" stroke="#276a50" stroke-width="2"/>
<line x1="783.3" y1="469.26" x2="783.3" y2="480.49" stroke="#276a50" stroke-width="2"/>
<rect x="769.25" y="447.73" width="28.1" height="21.53" fill="none" stroke="#276a50" stroke-width="1.9"/>
<line x1="769.25" y1="459.90" x2="797.3499999999999" y2="459.90" stroke="#276a50" stroke-width="1.9"/>
<circle cx="674.8" cy="395.31" r="3.9" fill="none" stroke="#1a1a1a" stroke-width="1.2"/>
<circle cx="685.8" cy="410.29" r="3.9" fill="none" stroke="#1a1a1a" stroke-width="1.2"/>
<circle cx="674.8" cy="415.90" r="3.9" fill="none" stroke="#1a1a1a" stroke-width="1.2"/>
<circle cx="674.8" cy="429.01" r="3.9" fill="none" stroke="#1a1a1a" stroke-width="1.2"/>
<circle cx="685.8" cy="455.22" r="3.9" fill="none" stroke="#1a1a1a" stroke-width="1.2"/>
<circle cx="663.8" cy="459.90" r="3.9" fill="none" stroke="#1a1a1a" stroke-width="1.2"/>
<circle cx="717.8" cy="424.33" r="3.9" fill="none" stroke="#1a1a1a" stroke-width="1.2"/>
<circle cx="728.8" cy="429.01" r="3.9" fill="none" stroke="#1a1a1a" stroke-width="1.2"/>
<circle cx="717.8" cy="436.50" r="3.9" fill="none" stroke="#1a1a1a" stroke-width="1.2"/>
<circle cx="728.8" cy="457.09" r="3.9" fill="none" stroke="#1a1a1a" stroke-width="1.2"/>
<circle cx="740.3" cy="457.09" r="3.9" fill="none" stroke="#1a1a1a" stroke-width="1.2"/>
<circle cx="728.8" cy="466.45" r="3.9" fill="none" stroke="#1a1a1a" stroke-width="1.2"/>
<circle cx="783.3" cy="427.14" r="3.9" fill="none" stroke="#1a1a1a" stroke-width="1.2"/>
<circle cx="772.3" cy="454.28" r="3.9" fill="none" stroke="#1a1a1a" stroke-width="1.2"/>
<circle cx="783.3" cy="454.28" r="3.9" fill="none" stroke="#1a1a1a" stroke-width="1.2"/>
<circle cx="783.3" cy="468.32" r="3.9" fill="none" stroke="#1a1a1a" stroke-width="1.2"/>
<circle cx="794.3" cy="468.32" r="3.9" fill="none" stroke="#1a1a1a" stroke-width="1.2"/>
<circle cx="783.3" cy="480.49" r="3.9" fill="none" stroke="#1a1a1a" stroke-width="1.2"/>
<text transform="translate(675.30,544.40) scale(1.02,1)" font-size="15.2" font-weight="bold" text-anchor="middle" fill="#1a1a1a" >Pre</text>
<text transform="translate(731.80,544.40) scale(1.02,1)" font-size="15.2" font-weight="bold" text-anchor="middle" fill="#1a1a1a" >Stim</text>
<text transform="translate(786.00,544.40) scale(1.02,1)" font-size="15.2" font-weight="bold" text-anchor="middle" fill="#1a1a1a" >Post</text>
<line x1="674.7" y1="334.6" x2="783.9" y2="334.6" stroke="#111" stroke-width="2"/>
<text transform="translate(702.30,330.60)" font-size="16.5" font-weight="bold" text-anchor="middle" fill="#222" >ns</text>
<text transform="translate(753.80,330.60)" font-size="16.5" font-weight="bold" text-anchor="middle" fill="#222" >ns</text>
</svg>
</body></html>
